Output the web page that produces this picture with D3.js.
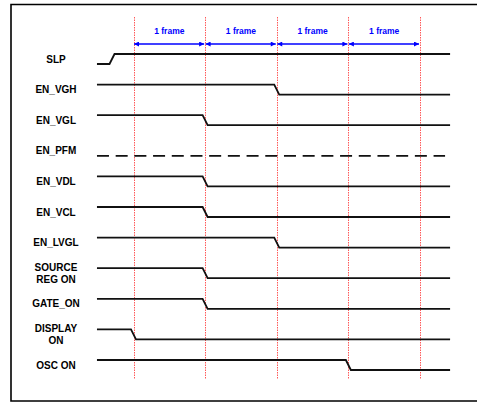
<!DOCTYPE html>
<html>
<head>
<meta charset="utf-8">
<script src="https://cdn.jsdelivr.net/npm/d3@7"></script>
<style>
  body { margin: 0; background: #fff; }
  svg { display: block; }
  .label { font-family: "Liberation Sans", Arial, sans-serif; font-weight: bold; font-size: 10px; fill: #000; }
  .frame-text { font-family: "Liberation Sans", Arial, sans-serif; font-weight: bold; font-size: 8.5px; fill: #0000ff; }
</style>
</head>
<body>
<svg id="chart"></svg>
<script>
// signal names (label lines) in row order
const signalLabels = [
  ["SLP"], ["EN_VGH"], ["EN_VGL"], ["EN_PFM"], ["EN_VDL"], ["EN_VCL"],
  ["EN_LVGL"], ["SOURCE", "REG ON"], ["GATE_ON"], ["DISPLAY", "ON"], ["OSC ON"]
];
// starting level of each signal (1 = high, 0 = low)
const startLevels = [0, 1, 1, 0, 1, 1, 1, 1, 1, 1, 1];
// time of level change in frames (null = no change)
const switchTimes = [-0.3, 2, 1, null, 1, 1, 2, 1, 1, 0, 3];
// dashed (don't care) signals
const dashedSignals = ["EN_PFM"];
// frame boundaries
const frameMarks = [0, 1, 2, 3, 4];
const frameText = "1 frame";

const width = 477, height = 405;
const svg = d3.select("#chart").attr("width", width).attr("height", height);

// scales
const x = d3.scaleLinear().domain([0, 4]).range([133.5, 420]);
const y = d3.scaleLinear().domain([0, 10]).range([54, 360]);
const levelGap = 10;
const edge = 0.035; // half transition width in frames
const tStart = -0.51, tEnd = 4.42;

// outer frame
svg.append("path")
  .attr("d", `M${width + 2},4.5 H11 V401 H${width + 2}`)
  .attr("fill", "none")
  .attr("stroke", "#000")
  .attr("stroke-width", 1.6);

// red dotted frame lines
svg.selectAll(".vline")
  .data(frameMarks)
  .enter()
  .append("line")
  .attr("class", "vline")
  .attr("x1", (d) => Math.round(x(d)) + 0.5)
  .attr("x2", (d) => Math.round(x(d)) + 0.5)
  .attr("y1", 17).attr("y2", 379)
  .attr("stroke", "#ff2020")
  .attr("stroke-opacity", 0.75)
  .attr("stroke-width", 1)
  .attr("stroke-dasharray", "1.5,1");

// arrowhead marker
const defs = svg.append("defs");
["start", "end"].forEach((k) => {
  defs.append("marker")
    .attr("id", "arrow-" + k)
    .attr("viewBox", "0 0 10 10")
    .attr("refX", k === "end" ? 10 : 0)
    .attr("refY", 5)
    .attr("markerWidth", 8)
    .attr("markerHeight", 5)
    .attr("markerUnits", "userSpaceOnUse")
    .attr("orient", "auto")
    .append("path")
    .attr("d", k === "end" ? "M0,0 L10,5 L0,10 Z" : "M10,0 L0,5 L10,10 Z")
    .attr("fill", "#0000ff");
});

// frame arrows
const frames = frameMarks.slice(0, -1);
svg.selectAll(".farrow")
  .data(frames)
  .enter()
  .append("line")
  .attr("class", "farrow")
  .attr("x1", (d) => x(d) + 0.5)
  .attr("x2", (d) => x(d + 1) - 1)
  .attr("y1", 44).attr("y2", 44)
  .attr("stroke", "#0000ff")
  .attr("stroke-width", 1.3)
  .attr("marker-start", "url(#arrow-start)")
  .attr("marker-end", "url(#arrow-end)");

svg.selectAll(".frame-text")
  .data(frames)
  .enter()
  .append("text")
  .attr("class", "frame-text")
  .attr("x", (d) => x(d + 0.5))
  .attr("y", 34)
  .attr("text-anchor", "middle")
  .text(frameText);

// waveforms
const levelY = (i, lv) => y(i) + (lv ? 0 : levelGap);

const rows = signalLabels.map((lab, i) => ({
  name: lab.join(" "),
  lines: lab,
  i: i,
  start: startLevels[i],
  sw: switchTimes[i],
  dashed: dashedSignals.includes(lab[0])
}));

const line = d3.line().x((p) => x(p[0])).y((p) => p[1]);

svg.selectAll(".wave")
  .data(rows)
  .enter()
  .append("path")
  .attr("class", "wave")
  .attr("d", (d) => {
    const a = d.start, b = 1 - a;
    let pts;
    if (d.dashed) {
      pts = [[tStart, levelY(d.i, a)], [4.35, levelY(d.i, a)]];
    } else if (d.sw === null) {
      pts = [[tStart, levelY(d.i, a)], [tEnd, levelY(d.i, a)]];
    } else {
      pts = [
        [tStart, levelY(d.i, a)],
        [d.sw - edge, levelY(d.i, a)],
        [d.sw + edge, levelY(d.i, b)],
        [tEnd, levelY(d.i, b)]
      ];
    }
    return line(pts);
  })
  .attr("fill", "none")
  .attr("stroke", "#111")
  .attr("stroke-width", 1.8)
  .attr("stroke-dasharray", (d) => (d.dashed ? "12,6.7" : null));

// labels
const labelG = svg.selectAll(".labelg")
  .data(rows)
  .enter()
  .append("text")
  .attr("class", "label")
  .attr("text-anchor", "middle")
  .attr("x", 56)
  .attr("y", (d) => y(d.i) + 5 + (d.lines.length > 1 ? -5.5 : 0));

labelG.selectAll("tspan")
  .data((d) => d.lines)
  .enter()
  .append("tspan")
  .attr("x", 56)
  .attr("dy", (d, j) => (j === 0 ? "0.35em" : "11.8"))
  .text((d) => d);
</script>
</body>
</html>
